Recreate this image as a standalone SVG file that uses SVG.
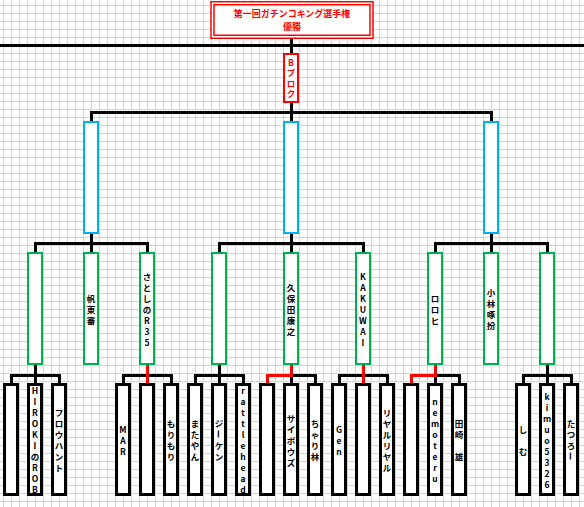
<svg xmlns="http://www.w3.org/2000/svg" width="584" height="507" viewBox="0 0 584 507">
<style>
.t{font-family:"Noto Sans CJK JP","Noto Sans",sans-serif;font-size:8.5px;font-weight:bold;text-anchor:middle;dominant-baseline:central;fill:#000}
.r{fill:#ff0000}
.tt{font-family:"Noto Sans CJK JP","Noto Sans",sans-serif;font-size:9px;font-weight:bold;text-anchor:middle;dominant-baseline:central;fill:#ff0000}
.leaf{fill:#fff;stroke:#000;stroke-width:3}
.grn{fill:#fff;stroke:#00b050;stroke-width:2}
.blu{fill:#fff;stroke:#00b0f0;stroke-width:2}
.red{fill:#fff;stroke:#ff0000;stroke-width:2}
.k{fill:none;stroke:#000;stroke-width:3}
.rk{fill:none;stroke:#ff0000;stroke-width:3}
</style>
<defs>
<pattern id="grid" patternUnits="userSpaceOnUse" x="3" y="5" width="8" height="8">
<rect width="8" height="8" fill="#fff"/>
<rect width="1" height="8" fill="#cfd3df"/>
<rect width="8" height="1" fill="#cfd3df"/>
</pattern>
</defs>
<rect width="584" height="507" fill="url(#grid)"/>
<g id="connectors" shape-rendering="crispEdges">
<path class="k" d="M291 39 V53 M0 45 H584"/>
<path class="k" d="M91 121 V112 H491 V121 M291 103 V121"/>
<path class="k" d="M35 252 V243 H147 V252 M91 234 V252"/>
<path class="k" d="M219 252 V243 H363 V252 M291 234 V252"/>
<path class="k" d="M435 252 V243 H547 V252 M491 234 V252"/>
<path class="k" d="M11 383 V375 H59 V383 M35 365 V383"/>
<path class="k" d="M123 383 V375 H171 V383 M147 365 V383"/>
<path class="k" d="M195 383 V375 H243 V383 M219 365 V383"/>
<path class="k" d="M267 383 V375 H315 V383 M291 365 V383"/>
<path class="k" d="M339 383 V375 H387 V383 M363 365 V383"/>
<path class="k" d="M411 383 V375 H459 V383 M435 365 V383"/>
<path class="k" d="M523 383 V375 H571 V383 M547 365 V383"/>
<path class="rk" d="M147 365 V383"/>
<path class="rk" d="M291 365 V375 H267 V383"/>
<path class="rk" d="M363 365 V383"/>
<path class="rk" d="M435 365 V375 H411 V383"/>
</g>
<g id="title">
<rect x="211" y="1.75" width="162" height="36.5" fill="#fff" stroke="#ff0000" stroke-width="1.5"/>
<rect x="214" y="4.75" width="156" height="30.5" fill="none" stroke="#ff0000" stroke-width="1.5"/>
<text class="tt" x="292" y="13.5">第一回ガチンコキング選手権</text>
<text class="tt" x="292" y="26.5">優勝</text>
</g>
<g id="node-b">
<rect class="red" x="284" y="54" width="14" height="48"/>
<text class="t r"><tspan x="291" y="61.5">B</tspan><tspan x="291" y="72">ブ</tspan><tspan x="291" y="82.5">ロ</tspan><tspan x="291" y="93">ク</tspan></text>
</g>
<g id="blue-91"><rect class="blu" x="84" y="122" width="14" height="111"/></g>
<g id="blue-291"><rect class="blu" x="284" y="122" width="14" height="111"/></g>
<g id="blue-491"><rect class="blu" x="484" y="122" width="14" height="111"/></g>
<g id="green-35"><rect class="grn" x="28" y="253" width="14" height="111"/></g>
<g id="green-91"><rect class="grn" x="84" y="253" width="14" height="111"/>
<text class="t"><tspan x="91" y="297.5">帆</tspan><tspan x="91" y="308.5">東</tspan><tspan x="91" y="319.5">審</tspan></text></g>
<g id="green-147"><rect class="grn" x="140" y="253" width="14" height="111"/>
<text class="t"><tspan x="147" y="275.5">さ</tspan><tspan x="147" y="286.5">と</tspan><tspan x="147" y="297.5">し</tspan><tspan x="147" y="308.5">の</tspan><tspan x="147" y="319.5">R</tspan><tspan x="147" y="330.5">3</tspan><tspan x="147" y="341.5">5</tspan></text></g>
<g id="green-219"><rect class="grn" x="212" y="253" width="14" height="111"/></g>
<g id="green-291"><rect class="grn" x="284" y="253" width="14" height="111"/>
<text class="t"><tspan x="291" y="286.5">久</tspan><tspan x="291" y="297.5">保</tspan><tspan x="291" y="308.5">田</tspan><tspan x="291" y="319.5">康</tspan><tspan x="291" y="330.5">之</tspan></text></g>
<g id="green-363"><rect class="grn" x="356" y="253" width="14" height="111"/>
<text class="t"><tspan x="363" y="275.5">K</tspan><tspan x="363" y="286.5">A</tspan><tspan x="363" y="297.5">K</tspan><tspan x="363" y="308.5">U</tspan><tspan x="363" y="319.5">W</tspan><tspan x="363" y="330.5">A</tspan><tspan x="363" y="341.5">I</tspan></text></g>
<g id="green-435"><rect class="grn" x="428" y="253" width="14" height="111"/>
<text class="t"><tspan x="435" y="297.5">ロ</tspan><tspan x="435" y="308.5">ロ</tspan><tspan x="435" y="319.5">ヒ</tspan></text></g>
<g id="green-491"><rect class="grn" x="484" y="253" width="14" height="111"/>
<text class="t"><tspan x="491" y="292">小</tspan><tspan x="491" y="303">林</tspan><tspan x="491" y="314">啄</tspan><tspan x="491" y="325">扮</tspan></text></g>
<g id="green-547"><rect class="grn" x="540" y="253" width="14" height="111"/></g>
<g id="leaf-11"><rect class="leaf" x="4.5" y="384.5" width="13" height="110"/></g>
<g id="leaf-35"><rect class="leaf" x="28.5" y="384.5" width="13" height="110"/>
<text class="t"><tspan x="35" y="390">H</tspan><tspan x="35" y="401">I</tspan><tspan x="35" y="412">R</tspan><tspan x="35" y="423">O</tspan><tspan x="35" y="434">K</tspan><tspan x="35" y="445">I</tspan><tspan x="35" y="456">の</tspan><tspan x="35" y="467">R</tspan><tspan x="35" y="478">O</tspan><tspan x="35" y="489">B</tspan></text></g>
<g id="leaf-59"><rect class="leaf" x="52.5" y="384.5" width="13" height="110"/>
<text class="t"><tspan x="59" y="412">フ</tspan><tspan x="59" y="423">ロ</tspan><tspan x="59" y="434">ウ</tspan><tspan x="59" y="445">ハ</tspan><tspan x="59" y="456">ン</tspan><tspan x="59" y="467">ト</tspan></text></g>
<g id="leaf-123"><rect class="leaf" x="116.5" y="384.5" width="13" height="110"/>
<text class="t"><tspan x="123" y="428.5">M</tspan><tspan x="123" y="439.5">A</tspan><tspan x="123" y="450.5">R</tspan></text></g>
<g id="leaf-147"><rect class="leaf" x="140.5" y="384.5" width="13" height="110"/></g>
<g id="leaf-171"><rect class="leaf" x="164.5" y="384.5" width="13" height="110"/>
<text class="t"><tspan x="171" y="423">も</tspan><tspan x="171" y="434">り</tspan><tspan x="171" y="445">も</tspan><tspan x="171" y="456">り</tspan></text></g>
<g id="leaf-195"><rect class="leaf" x="188.5" y="384.5" width="13" height="110"/>
<text class="t"><tspan x="195" y="423">ま</tspan><tspan x="195" y="434">た</tspan><tspan x="195" y="445">や</tspan><tspan x="195" y="456">ん</tspan></text></g>
<g id="leaf-219"><rect class="leaf" x="212.5" y="384.5" width="13" height="110"/>
<text class="t"><tspan x="219" y="423">ジ</tspan></text>
<text class="t" x="219" y="434" transform="rotate(90 219 434)">ー</text>
<text class="t"><tspan x="219" y="445">ケ</tspan><tspan x="219" y="456">ン</tspan></text></g>
<g id="leaf-243"><rect class="leaf" x="236.5" y="384.5" width="13" height="110"/>
<text class="t"><tspan x="243" y="390">r</tspan><tspan x="243" y="401">a</tspan><tspan x="243" y="412">t</tspan><tspan x="243" y="423">t</tspan><tspan x="243" y="434">l</tspan><tspan x="243" y="445">e</tspan><tspan x="243" y="456">h</tspan><tspan x="243" y="467">e</tspan><tspan x="243" y="478">a</tspan><tspan x="243" y="489">d</tspan></text></g>
<g id="leaf-267"><rect class="leaf" x="260.5" y="384.5" width="13" height="110"/></g>
<g id="leaf-291"><rect class="leaf" x="284.5" y="384.5" width="13" height="110"/>
<text class="t"><tspan x="291" y="417.5">サ</tspan><tspan x="291" y="428.5">イ</tspan><tspan x="291" y="439.5">ボ</tspan><tspan x="291" y="450.5">ウ</tspan><tspan x="291" y="461.5">ズ</tspan></text></g>
<g id="leaf-315"><rect class="leaf" x="308.5" y="384.5" width="13" height="110"/>
<text class="t"><tspan x="315" y="423">ち</tspan><tspan x="315" y="434">ゃ</tspan><tspan x="315" y="445">り</tspan><tspan x="315" y="456">林</tspan></text></g>
<g id="leaf-339"><rect class="leaf" x="332.5" y="384.5" width="13" height="110"/>
<text class="t"><tspan x="339" y="428.5">G</tspan><tspan x="339" y="439.5">e</tspan><tspan x="339" y="450.5">n</tspan></text></g>
<g id="leaf-363"><rect class="leaf" x="356.5" y="384.5" width="13" height="110"/></g>
<g id="leaf-387"><rect class="leaf" x="380.5" y="384.5" width="13" height="110"/>
<text class="t"><tspan x="387" y="412">リ</tspan><tspan x="387" y="423">ヤ</tspan><tspan x="387" y="434">ル</tspan><tspan x="387" y="445">リ</tspan><tspan x="387" y="456">ヤ</tspan><tspan x="387" y="467">ル</tspan></text></g>
<g id="leaf-411"><rect class="leaf" x="404.5" y="384.5" width="13" height="110"/></g>
<g id="leaf-435"><rect class="leaf" x="428.5" y="384.5" width="13" height="110"/>
<text class="t"><tspan x="435" y="401">n</tspan><tspan x="435" y="412">e</tspan><tspan x="435" y="423">m</tspan><tspan x="435" y="434">o</tspan><tspan x="435" y="445">t</tspan><tspan x="435" y="456">e</tspan><tspan x="435" y="467">r</tspan><tspan x="435" y="478">u</tspan></text></g>
<g id="leaf-459"><rect class="leaf" x="452.5" y="384.5" width="13" height="110"/>
<text class="t"><tspan x="459" y="423">田</tspan><tspan x="459" y="434">崎</tspan><tspan x="459" y="456">雄</tspan></text></g>
<g id="leaf-523"><rect class="leaf" x="516.5" y="384.5" width="13" height="110"/>
<text class="t"><tspan x="523" y="428.5">し</tspan><tspan x="523" y="450.5">む</tspan></text></g>
<g id="leaf-547"><rect class="leaf" x="540.5" y="384.5" width="13" height="110"/>
<text class="t"><tspan x="547" y="395.5">k</tspan><tspan x="547" y="406.5">i</tspan><tspan x="547" y="417.5">m</tspan><tspan x="547" y="428.5">u</tspan><tspan x="547" y="439.5">o</tspan><tspan x="547" y="450.5">5</tspan><tspan x="547" y="461.5">3</tspan><tspan x="547" y="472.5">2</tspan><tspan x="547" y="483.5">6</tspan></text></g>
<g id="leaf-571"><rect class="leaf" x="564.5" y="384.5" width="13" height="110"/>
<text class="t"><tspan x="571" y="423">た</tspan><tspan x="571" y="434">つ</tspan><tspan x="571" y="445">ろ</tspan></text>
<text class="t" x="571" y="456" transform="rotate(90 571 456)">ー</text></g>
</svg>
